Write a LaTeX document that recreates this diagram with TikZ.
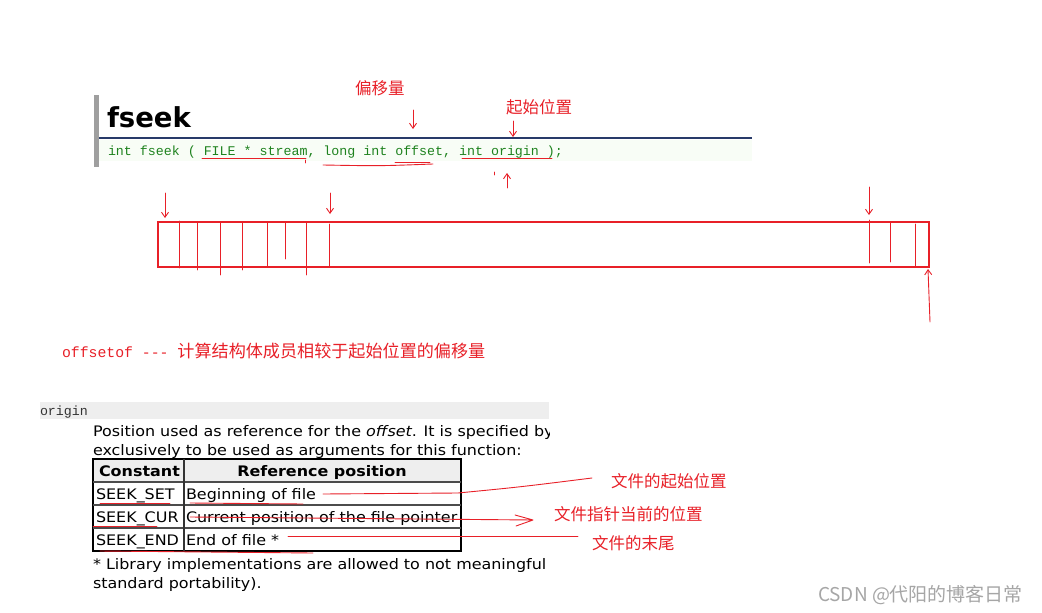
\documentclass[tikz,border=0pt]{standalone}
\usepackage{fontspec}
\setmainfont{DejaVu Sans}
\newfontfamily\verd[FakeStretch=1.1]{DejaVu Sans}
\newfontfamily\cjk{Noto Sans CJK SC}
\newfontfamily\mono{Liberation Mono}
\usetikzlibrary{arrows.meta}
\definecolor{hred}{RGB}{232,32,40}
\definecolor{codegreen}{RGB}{30,130,30}
\definecolor{docblue}{RGB}{40,58,105}
\definecolor{greenbg}{RGB}{248,253,246}
\definecolor{graybg}{RGB}{238,238,238}
\begin{document}
\begin{tikzpicture}[x=1pt,y=-1pt,
  txt/.style={anchor=base west,inner sep=0pt,outer sep=0pt},
  redlbl/.style={txt,text=hred,font=\cjk\fontsize{16.5}{18}\selectfont},
  body/.style={txt,font=\verd\fontsize{14.5}{16}\selectfont},
  cell/.style={txt,font=\verd\fontsize{14.5}{16}\selectfont},
  hand/.style={draw=hred,line width=0.9pt,line cap=round,line join=round},
  handarrow/.style={hand,-{Straight Barb[length=5pt,width=7pt]}}]
\useasboundingbox (0,0) rectangle (1042,613);
\fill[white] (0,0) rectangle (1042,613);

% ---- doc header ----
\fill[gray!75] (94,95) rectangle (99,167);
\fill[greenbg] (99,140) rectangle (752,161);
\draw[docblue,line width=2.6pt] (99,138) -- (752,138);
\node[txt,font=\bfseries\fontsize{27.5}{30}\selectfont] (title) at (107,127) {fseek};
\node[txt,text=codegreen,font=\mono\fontsize{13.3}{15}\selectfont] (proto) at (108,155)
  {int fseek ( FILE * stream, long int offset, int origin );};

% ---- red annotations at top ----
\node[redlbl] (off) at (355,94) {偏移量};
\node[redlbl] (orig) at (506,113) {起始位置};
\coordinate (a1s) at (413,110); \coordinate (a1e) at (413,129);
\draw[handarrow] (a1s) -- (a1e);
\coordinate (a2s) at (513,121); \coordinate (a2e) at (513,137);
\draw[handarrow] (a2s) -- (a2e);
\coordinate (a3s) at (507,188); \coordinate (a3e) at (507,173);
\draw[handarrow] (a3s) -- (a3e);
\draw[hand] (202,158) -- (306,158);
\draw[hand] (305,160) -- (305,163);
\draw[hand] (323,165) .. controls (380,166) .. (433,164);
\draw[hand] (395,162) -- (430,162);
\draw[hand] (462,158) -- (552,158);
\draw[hand] (494,172) -- (494,175);

% ---- memory strip ----
\node[draw=hred,line width=1.8pt,minimum width=771pt,minimum height=45pt,inner sep=0pt,anchor=north west] (strip) at (157,221) {};
\foreach \x/\a/\b in {179/221/268,197/222/270,220/223/275,242/222/270,267/223/266,285/223/259,306/223/275,329/224/266,869/220/263,890/223/262,915/224/266}
  {\draw[hand] (\x,\a) -- (\x,\b);}
\coordinate (b1s) at (165,193); \coordinate (b1e) at (165,218);
\draw[handarrow] (b1s) -- (b1e);
\coordinate (b2s) at (330,193); \coordinate (b2e) at (330,214);
\draw[handarrow] (b2s) -- (b2e);
\coordinate (b3s) at (869,187); \coordinate (b3e) at (869,215);
\draw[handarrow] (b3s) -- (b3e);
\coordinate (b4s) at (930,322); \coordinate (b4e) at (928,269);
\draw[handarrow] (b4s) -- (b4e);

% ---- offsetof note ----
\node[txt,text=hred] (offsetof) at (62,357)
  {{\mono\fontsize{14.8}{18}\selectfont offsetof --- }{\cjk\fontsize{17.1}{20}\selectfont 计算结构体成员相较于起始位置的偏移量}};

% ---- origin description ----
\fill[graybg] (40,402) rectangle (549,419);
\node[txt,text=black!80,font=\mono\fontsize{13.3}{15}\selectfont] (origin) at (40,415) {origin};
\begin{scope}
\clip (80,420) rectangle (549,460);
\node[body] (desc1) at (93,436) {Position used as reference for the \textit{offset}. It is specified by};
\end{scope}
\node[body] (desc2) at (93,455) {exclusively to be used as arguments for this function:};

% table
\fill[graybg] (93,459) rectangle (461,482);
\draw[black,line width=1.2pt] (93,459) rectangle (461,551);
\foreach \y in {482,505,528} {\draw[black!70,line width=1.2pt] (93,\y) -- (461,\y);}
\draw[black!80,line width=1.2pt] (184,459) -- (184,551);
\node[cell,font=\verd\bfseries\fontsize{14.5}{16}\selectfont] (hc) at (99,476) {Constant};
\node[anchor=base,inner sep=0pt,font=\verd\bfseries\fontsize{14.5}{16}\selectfont] (hr) at (322,476) {Reference position};
\node[cell] (c1) at (96,499) {SEEK\_SET};
\node[cell] (r1) at (186,499) {Beginning of file};
\node[cell] (c2) at (96,522) {SEEK\_CUR};
\node[cell] (r2) at (186,522) {Current position of the file pointer};
\node[cell] (c3) at (96,545) {SEEK\_END};
\node[cell] (r3) at (186,545) {End of file *};
\node[body] (foot1) at (93,569) {* Library implementations are allowed to not meaningful};
\node[body] (foot2) at (93,588) {standard portability).};

% red marks on table
\draw[hand] (100,503) -- (170,503);
\draw[hand] (190,503) -- (303,504);
\draw[hand] (93,526) -- (157,526);
\draw[hand] (100,551) -- (313,553);
\node[redlbl] (l1) at (611,487) {文件的起始位置};
\node[redlbl] (l2) at (554,520) {文件指针当前的位置};
\node[redlbl] (l3) at (592,549) {文件的末尾};
\coordinate (p1s) at (323,494);
\draw[hand] (p1s) -- (458,493) .. controls (520,487) .. (592,478);
\coordinate (p2s) at (190,517);
\coordinate (p2e) at (533,520);
\draw[hand] (p2s) -- (p2e) (515,515) -- (p2e) -- (516,526);
\coordinate (p3s) at (288,536);
\coordinate (p3e) at (578,536);
\draw[hand] (p3s) -- (p3e);

% watermark
\node[txt,text=gray!70,font=\cjk\fontsize{19}{21}\selectfont] (wm) at (818,601) {CSDN @代阳的博客日常};
\end{tikzpicture}
\end{document}
